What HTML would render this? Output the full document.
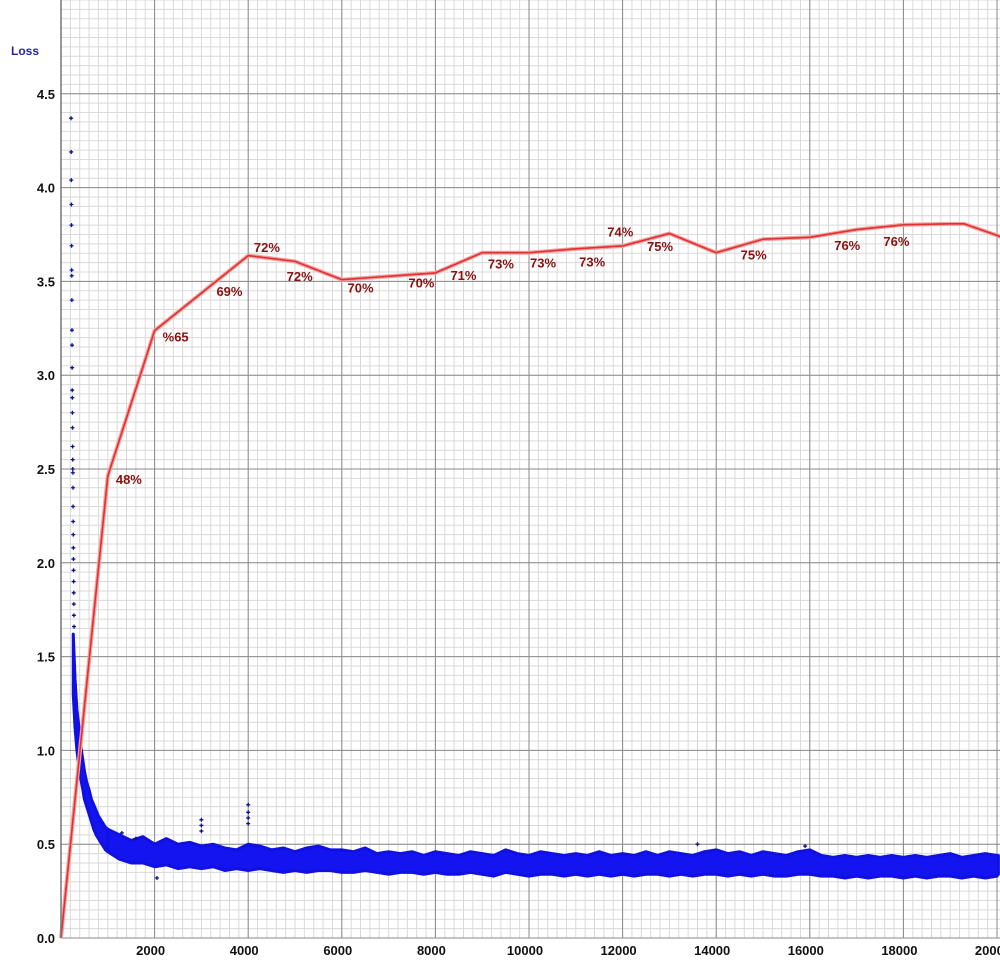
<!DOCTYPE html>
<html><head><meta charset="utf-8"><style>
html,body{margin:0;padding:0;background:#fff;width:1000px;height:961px;overflow:hidden}
svg{display:block}
text{font-family:"Liberation Sans",sans-serif}
</style></head><body>
<svg id="chart" width="1000" height="961" viewBox="0 0 1000 961" xmlns="http://www.w3.org/2000/svg">
<g id="grid"></g>
<g id="loss"></g>
<g id="acc"></g>
<g id="axes"></g>
<text x="11" y="55" font-size="12" font-weight="bold" fill="#2424a8">Loss</text>
</svg>
<script>
const xTicks=[2000,4000,6000,8000,10000,12000,14000,16000,18000,20000];
const yTicks=[0,0.5,1,1.5,2,2.5,3,3.5,4,4.5];
const yTickLabels=["0.0","0.5","1.0","1.5","2.0","2.5","3.0","3.5","4.0","4.5"];
const earlySteps=[215,218,220,222,224,226,228,230,232,234,236,238,240,242,244,246,248,250,252,254,256,258,260,262,264,266,268,270,272,274,276,278];
const earlyLoss=[4.37,4.19,4.04,3.91,3.80,3.69,3.56,3.53,3.40,3.24,3.16,3.04,2.92,2.88,2.80,2.72,2.62,2.55,2.50,2.48,2.40,2.30,2.22,2.15,2.08,2.02,1.96,1.90,1.84,1.78,1.72,1.66];
const descentSteps=[262,300,340,380,420,460,500,550,600,650,700,750,800,850,900,950,1000];
const descentHi=[1.62,1.38,1.22,1.13,1.03,0.96,0.89,0.83,0.79,0.74,0.71,0.68,0.65,0.63,0.61,0.59,0.58];
const descentLo=[1.30,1.12,1.00,0.92,0.85,0.80,0.74,0.70,0.66,0.62,0.58,0.55,0.53,0.51,0.49,0.47,0.46];
const plateauSteps=[1000,1250,1500,1750,2000,2250,2500,2750,3000,3250,3500,3750,4000,4250,4500,4750,5000,5250,5500,5750,6000,6250,6500,6750,7000,7250,7500,7750,8000,8250,8500,8750,9000,9250,9500,9750,10000,10250,10500,10750,11000,11250,11500,11750,12000,12250,12500,12750,13000,13250,13500,13750,14000,14250,14500,14750,15000,15250,15500,15750,16000,16250,16500,16750,17000,17250,17500,17750,18000,18250,18500,18750,19000,19250,19500,19750,20000,20030];
const plateauHi=[0.58,0.55,0.52,0.54,0.50,0.53,0.50,0.51,0.49,0.50,0.48,0.47,0.50,0.49,0.47,0.48,0.46,0.48,0.49,0.47,0.47,0.46,0.48,0.45,0.46,0.45,0.46,0.44,0.46,0.45,0.44,0.46,0.45,0.44,0.47,0.45,0.44,0.46,0.45,0.44,0.45,0.44,0.46,0.44,0.45,0.44,0.46,0.44,0.46,0.45,0.44,0.46,0.47,0.45,0.46,0.44,0.46,0.45,0.44,0.46,0.47,0.44,0.43,0.44,0.43,0.44,0.43,0.44,0.43,0.44,0.43,0.44,0.45,0.43,0.44,0.45,0.44,0.44];
const plateauLo=[0.46,0.42,0.40,0.40,0.38,0.39,0.37,0.38,0.37,0.38,0.36,0.37,0.36,0.37,0.36,0.35,0.36,0.35,0.36,0.36,0.35,0.35,0.36,0.35,0.34,0.35,0.35,0.34,0.35,0.34,0.34,0.35,0.34,0.33,0.35,0.34,0.33,0.34,0.34,0.33,0.34,0.33,0.34,0.33,0.34,0.33,0.34,0.34,0.33,0.34,0.33,0.34,0.34,0.33,0.34,0.33,0.34,0.33,0.33,0.34,0.34,0.33,0.33,0.32,0.33,0.32,0.33,0.33,0.32,0.33,0.32,0.33,0.33,0.32,0.33,0.32,0.33,0.34];
const spikeSteps=[3000,3000,3000,4000,4000,4000,4000,2050,1300,1600,13600,15900];
const spikeLoss=[0.63,0.60,0.57,0.71,0.67,0.64,0.61,0.32,0.56,0.53,0.50,0.49];
const accSteps=[0,1000,2000,4000,5000,6000,8000,9000,10000,11000,12000,13000,14000,15000,16000,17000,18000,19000,19300,20000,20100];
const accValues=[0,48.0,63.1,70.9,70.3,68.4,69.1,71.2,71.2,71.6,71.9,73.2,71.2,72.6,72.8,73.6,74.1,74.2,74.2,73.0,72.8];
const accLabels=["48%","%65","69%","72%","72%","70%","70%","71%","73%","73%","73%","74%","75%","75%","76%","76%"];
const accLabelSteps=[1450,2450,3600,4400,5100,6400,7700,8600,9400,10300,11350,11950,12800,14800,16800,17850];
const accLabelValues=[47.7,62.5,67.2,71.8,68.8,67.6,68.1,68.9,70.1,70.2,70.3,73.4,71.9,71.0,72.0,72.4];

const X0=61, KX=93.6/2000, Y0=938, KY=187.6;
const sx=s=>X0+s*KX, sy=v=>Y0-v*KY, sa=a=>Y0-a*9.625;
const NS='http://www.w3.org/2000/svg';
function mk(tag,attrs,parent){const e=document.createElementNS(NS,tag);for(const k in attrs)e.setAttribute(k,attrs[k]);parent.appendChild(e);return e;}
const grid=document.getElementById('grid'),axes=document.getElementById('axes'),loss=document.getElementById('loss'),acc=document.getElementById('acc');
for(let s=200;sx(s)<=1000;s+=200){const l=mk('line',{x1:sx(s),x2:sx(s),y1:0,y2:Y0,stroke:'#dadada','stroke-width':1},grid);

}
for(let v=0.05;sy(v)>=0;v+=0.05){const l=mk('line',{x1:X0,x2:1000,y1:sy(v),y2:sy(v),stroke:'#dadada','stroke-width':1},grid);

}
xTicks.forEach(t=>{const l=mk('line',{x1:sx(t),x2:sx(t),y1:0,y2:Y0,stroke:'#8a8a8a','stroke-width':1},grid);


const tx=mk('text',{x:sx(t)-4,y:955,'font-size':13,'font-weight':'bold','text-anchor':'middle',fill:'#111'},axes);tx.textContent=t;

});
yTicks.forEach((t,i)=>{const l=mk('line',{x1:X0,x2:1000,y1:sy(t),y2:sy(t),stroke:'#8a8a8a','stroke-width':1},grid);


const tx=mk('text',{x:55,y:sy(t)+5,'font-size':13,'font-weight':'bold','text-anchor':'end',fill:'#111'},axes);tx.textContent=yTickLabels[i];

});
const ax=mk('line',{x1:X0,x2:X0,y1:0,y2:Y0,stroke:'#777','stroke-width':1.5},axes);


function band(steps,hi,lo,name){let pts=steps.map((s,i)=>sx(s)+','+sy(hi[i]));for(let i=steps.length-1;i>=0;i--)pts.push(sx(steps[i])+','+sy(lo[i]));
const p=mk('polygon',{points:pts.join(' '),fill:'#1414f0',stroke:'#1010e0','stroke-width':3,'stroke-linejoin':'round'},loss);

}
band(descentSteps,descentHi,descentLo,'loss-descent-band');
band(plateauSteps,plateauHi,plateauLo,'loss-plateau-band');
function plus(s,v,name){const g=mk('path',{d:`M${sx(s)-2},${sy(v)}h4M${sx(s)},${sy(v)-2}v4`,stroke:'#10108a','stroke-width':1.3},loss);

}
earlySteps.forEach((s,i)=>plus(s,earlyLoss[i],'loss-point'));
spikeSteps.forEach((s,i)=>plus(s,spikeLoss[i],'loss-spike'));
const ap=accSteps.map((s,i)=>sx(s)+','+sa(accValues[i])).join(' ');
const glow=mk('polyline',{points:ap,fill:'none',stroke:'#f4a0a0','stroke-width':4,'stroke-linejoin':'round'},acc);


const line=mk('polyline',{points:ap,fill:'none',stroke:'#e03030','stroke-width':1.6,'stroke-linejoin':'round'},acc);


accLabels.forEach((t,i)=>{const tx=mk('text',{x:sx(accLabelSteps[i]),y:sa(accLabelValues[i])+5,'font-size':13,'font-weight':'bold','text-anchor':'middle',fill:'#8a1010'},acc);tx.textContent=t;

});
</script>
</body></html>
